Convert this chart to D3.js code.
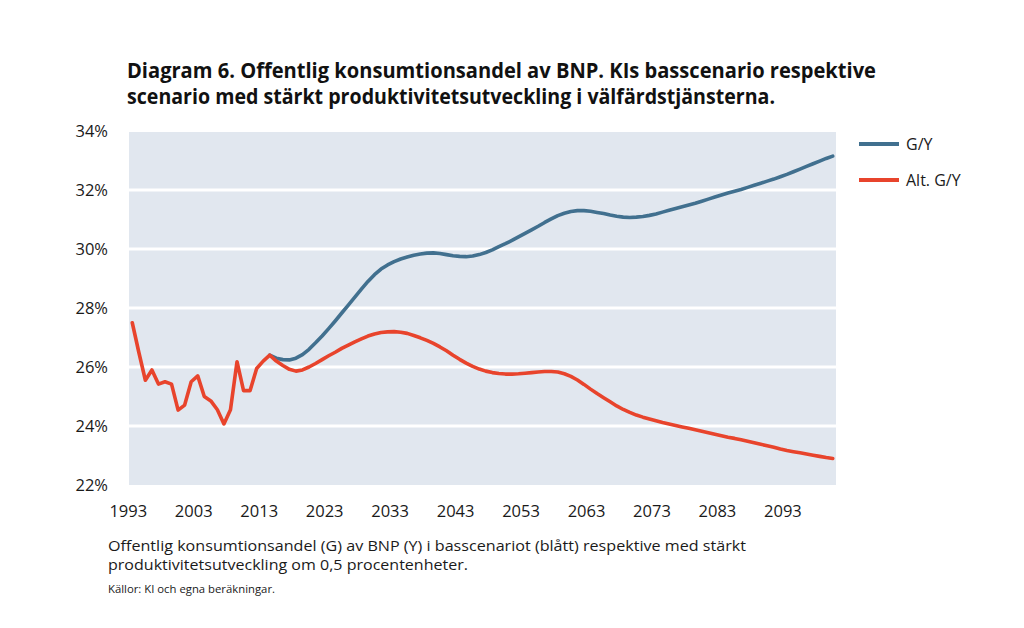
<!DOCTYPE html>
<html>
<head>
<meta charset="utf-8">
<script src="https://cdn.jsdelivr.net/npm/d3@7"></script>
<style>
  html, body { margin: 0; padding: 0; background: #ffffff; }
  svg { display: block; font-family: "Open Sans", "Noto Sans", sans-serif; }
</style>
</head>
<body>
<svg id="chart" width="1024" height="628"></svg>
<script>
// ---------- DATA ----------
const years = d3.range(1993, 2101);           // 1993 .. 2100
const baseStartYear = 2014;                   // G/Y starts here
const yTicks = [22, 24, 26, 28, 30, 32, 34];
const xTickYears = [1993, 2003, 2013, 2023, 2033, 2043, 2053, 2063, 2073, 2083, 2093];
const seriesNames = ["G/Y", "Alt. G/Y"];

// Alt. G/Y (red), 1993 .. 2100
const altGY = [
  27.5, 26.5, 25.55, 25.9, 25.42, 25.5, 25.42, 24.54, 24.71, 25.5,
  25.7, 25.0, 24.85, 24.55, 24.07, 24.55, 26.18, 25.2, 25.2, 25.95,
  26.2, 26.4, 26.2, 26.05, 25.92, 25.86, 25.9, 26.0, 26.12, 26.25,
  26.38, 26.5, 26.63, 26.74, 26.85, 26.95, 27.05, 27.12, 27.17, 27.19,
  27.2, 27.18, 27.14, 27.07, 26.99, 26.9, 26.8, 26.68, 26.55, 26.4,
  26.26, 26.13, 26.02, 25.93, 25.86, 25.81, 25.78, 25.76, 25.76, 25.77,
  25.79, 25.81, 25.83, 25.85, 25.85, 25.83, 25.77, 25.68, 25.56, 25.41,
  25.25, 25.1, 24.96, 24.82, 24.68, 24.56, 24.46, 24.37, 24.3, 24.24,
  24.18, 24.12, 24.07, 24.02, 23.97, 23.92, 23.87, 23.82, 23.77, 23.72,
  23.67, 23.62, 23.58, 23.53, 23.48, 23.43, 23.38, 23.33, 23.28, 23.22,
  23.17, 23.13, 23.09, 23.05, 23.01, 22.97, 22.93, 22.9
];

// G/Y (blue), 2014 .. 2100
const baseGY = [
  26.4, 26.3, 26.25, 26.24, 26.3, 26.42, 26.6, 26.82, 27.05, 27.3,
  27.56, 27.83, 28.1, 28.37, 28.64, 28.9, 29.13, 29.32, 29.46, 29.57,
  29.66, 29.73, 29.79, 29.83, 29.86, 29.87, 29.85, 29.81, 29.77, 29.75,
  29.74, 29.76, 29.81, 29.88, 29.97, 30.08, 30.18, 30.29, 30.41, 30.53,
  30.65, 30.77, 30.9, 31.02, 31.13, 31.21, 31.27, 31.3, 31.3, 31.28,
  31.24, 31.2, 31.15, 31.11, 31.08, 31.07, 31.08, 31.1, 31.14, 31.19,
  31.25, 31.31, 31.37, 31.43, 31.49, 31.55, 31.62, 31.69, 31.76, 31.83,
  31.9, 31.96, 32.02, 32.09, 32.16, 32.23, 32.3, 32.37, 32.45, 32.53,
  32.62, 32.71, 32.8, 32.89, 32.98, 33.07, 33.15
];

const titleLines = [
  "Diagram 6. Offentlig konsumtionsandel av BNP. KIs basscenario respektive",
  "scenario med stärkt produktivitetsutveckling i välfärdstjänsterna."
];
const noteLines = [
  "Offentlig konsumtionsandel (G) av BNP (Y) i basscenariot (blått) respektive med stärkt",
  "produktivitetsutveckling om 0,5 procentenheter."
];
const sourceText = "Källor: KI och egna beräkningar.";

// ---------- STYLE / LAYOUT ----------
const colors = { "G/Y": "#41708f", "Alt. G/Y": "#e8442c" };
const plot = { left: 129, right: 836, top: 131, bottom: 485 };

const svg = d3.select("#chart");

const x = d3.scaleBand().domain(years).range([plot.left, plot.right]).padding(0);
const xc = yr => x(yr) + x.bandwidth() / 2;
const y = d3.scaleLinear().domain([22, 34]).range([plot.bottom, plot.top]);

// background
svg.append("rect")
  .attr("x", plot.left).attr("y", plot.top + 1)
  .attr("width", plot.right - plot.left).attr("height", plot.bottom - plot.top - 1)
  .attr("fill", "#e1e7ef");

// grid lines
svg.append("g").selectAll("line")
  .data(yTicks.filter(t => t > 22 && t < 34))
  .join("line")
  .attr("x1", plot.left).attr("x2", plot.right)
  .attr("y1", d => y(d)).attr("y2", d => y(d))
  .attr("stroke", "#ffffff").attr("stroke-width", 3);

// y axis
const yAxis = svg.append("g")
  .attr("transform", `translate(${plot.left},0)`)
  .call(d3.axisLeft(y).tickValues(yTicks).tickFormat(d => d + "%").tickSize(0).tickPadding(21));
yAxis.select(".domain").remove();
yAxis.selectAll("text")
  .attr("font-family", "'Open Sans', 'Noto Sans', sans-serif")
  .attr("font-size", 16.5).attr("fill", "#1a1a1a");

// x axis
const xAxis = svg.append("g")
  .attr("transform", `translate(0,${plot.bottom})`)
  .call(d3.axisBottom(x).tickValues(xTickYears).tickSize(0).tickPadding(20));
xAxis.select(".domain").remove();
xAxis.selectAll("text")
  .attr("dx", -4)
  .attr("font-family", "'Open Sans', 'Noto Sans', sans-serif")
  .attr("font-size", 16.5).attr("fill", "#1a1a1a");

// lines
const line = d3.line().x(d => xc(d.year)).y(d => y(d.value)).curve(d3.curveLinear);
const altData = years.map((yr, i) => ({ year: yr, value: altGY[i] }));
const baseData = baseGY.map((v, i) => ({ year: baseStartYear + i, value: v }));

svg.append("path").datum(baseData)
  .attr("d", line).attr("fill", "none")
  .attr("stroke", colors["G/Y"]).attr("stroke-width", 3.6)
  .attr("stroke-linejoin", "round").attr("stroke-linecap", "round");
svg.append("path").datum(altData)
  .attr("d", line).attr("fill", "none")
  .attr("stroke", colors["Alt. G/Y"]).attr("stroke-width", 3.6)
  .attr("stroke-linejoin", "round").attr("stroke-linecap", "round");

// legend
const legend = svg.append("g").selectAll("g").data(seriesNames).join("g")
  .attr("transform", (d, i) => `translate(859,${144 + i * 36})`);
legend.append("line").attr("x1", 0).attr("x2", 40).attr("y1", 0).attr("y2", 0)
  .attr("stroke", d => colors[d]).attr("stroke-width", 4);
legend.append("text").attr("x", 47).attr("y", 0).attr("dy", "0.35em")
  .attr("font-size", 16).attr("fill", "#1a1a1a").text(d => d);

// helper: fit text to a measured width
function fit(sel, w) {
  sel.attr("textLength", w).attr("lengthAdjust", "spacingAndGlyphs");
}

// title
titleLines.forEach((t, i) => {
  const el = svg.append("text")
    .attr("x", 127).attr("y", 78 + i * 26)
    .attr("font-size", 21).attr("font-weight", "bold").attr("fill", "#111111")
    .text(t);
  fit(el, i === 0 ? 749 : 648);
});

// note
noteLines.forEach((t, i) => {
  const el = svg.append("text")
    .attr("x", 108).attr("y", 551 + i * 19)
    .attr("font-size", 15).attr("fill", "#1a1a1a")
    .text(t);
  fit(el, i === 0 ? 638 : 360);
});

const src = svg.append("text")
  .attr("x", 108).attr("y", 593)
  .attr("font-size", 11).attr("fill", "#1a1a1a")
  .text(sourceText);
fit(src, 167);
</script>
</body>
</html>
